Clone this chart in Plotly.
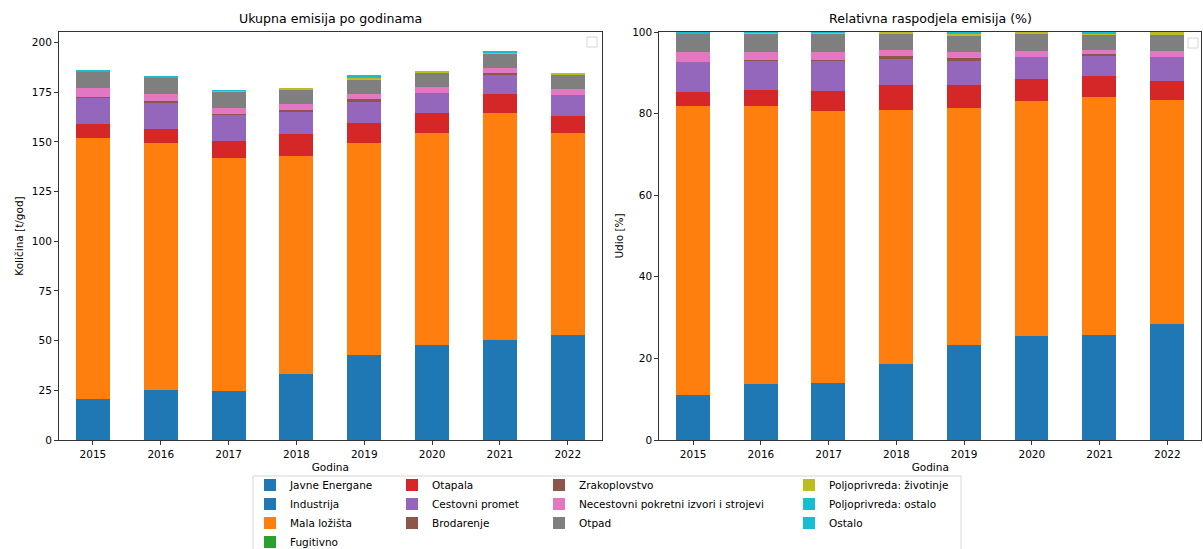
import plotly.graph_objects as go

W, H = 1203, 549

years = ['2015', '2016', '2017', '2018', '2019', '2020', '2021', '2022']

javne_energane = [20.0, 24.5, 24.0, 32.5, 42.1, 47.1, 50.0, 52.1]
industrija = [0.5, 0.5, 0.5, 0.5, 0.5, 0.5, 0.5, 0.5]
mala_lozista = [131.6, 124.7, 117.4, 110.1, 106.6, 106.7, 114.0, 101.7]
fugitivno = [0.0, 0.0, 0.0, 0.0, 0.0, 0.0, 0.0, 0.0]
otapala = [6.7, 6.9, 8.5, 10.7, 10.3, 10.2, 9.7, 8.5]
cestovni_promet = [13.6, 13.4, 13.2, 11.7, 11.0, 10.2, 9.9, 10.7]
brodarenje = [0.1, 0.2, 0.2, 0.4, 0.5, 0.0, 0.4, 0.0]
zrakoplovstvo = [0.0, 0.2, 0.2, 0.4, 0.4, 0.0, 0.4, 0.0]
necestovni = [4.4, 3.6, 3.3, 2.7, 2.8, 2.7, 2.2, 2.9]
otpad = [8.5, 8.3, 7.9, 7.4, 7.4, 7.5, 7.4, 7.2]
polj_zivotinje = [0.1, 0.1, 0.6, 0.5, 1.0, 1.0, 0.5, 1.3]
polj_ostalo = [0.2, 0.2, 0.0, 0.0, 0.3, 0.0, 0.2, 0.0]
ostalo = [0.3, 0.2, 0.1, 0.0, 0.4, 0.0, 0.3, 0.0]

names = ['Javne Energane', 'Industrija', 'Mala ložišta', 'Fugitivno', 'Otapala',
         'Cestovni promet', 'Brodarenje', 'Zrakoplovstvo',
         'Necestovni pokretni izvori i strojevi', 'Otpad',
         'Poljoprivreda: životinje', 'Poljoprivreda: ostalo', 'Ostalo']
series = [javne_energane, industrija, mala_lozista, fugitivno, otapala,
          cestovni_promet, brodarenje, zrakoplovstvo, necestovni, otpad,
          polj_zivotinje, polj_ostalo, ostalo]
colors = ['#1f77b4', '#1f77b4', '#ff7f0e', '#2ca02c', '#d62728', '#9467bd',
          '#8c564b', '#8c564b', '#e377c2', '#7f7f7f', '#bcbd22', '#17becf', '#17becf']
legend_ids = ['legend', 'legend', 'legend', 'legend',
              'legend2', 'legend2', 'legend2',
              'legend3', 'legend3', 'legend3',
              'legend4', 'legend4', 'legend4']

totals = [sum(s[i] for s in series) for i in range(len(years))]

FONT = 'DejaVu Sans'
fig = go.Figure()
for name, vals, col, lg in zip(names, series, colors, legend_ids):
    fig.add_trace(go.Bar(x=years, y=vals, name=name, width=0.5,
                         marker=dict(color=col, line=dict(width=0)),
                         xaxis='x', yaxis='y', legend=lg))
for name, vals, col in zip(names, series, colors):
    pct = [v / t * 100 for v, t in zip(vals, totals)]
    fig.add_trace(go.Bar(x=years, y=pct, name=name, width=0.5,
                         marker=dict(color=col, line=dict(width=0)),
                         xaxis='x2', yaxis='y2', showlegend=False))

def px(x):
    return x / W

def py(y):
    return 1 - y / H

top, bottom = 32, 440
x1d = [px(59), px(601.7)]
x2d = [px(659.3), px(1201.2)]
yd = [py(bottom), py(top)]

axis_common = dict(showline=True, mirror=True, linecolor='#333', linewidth=1,
                   ticks='outside', ticklen=4, tickwidth=1, tickcolor='#333',
                   showgrid=False, zeroline=False, automargin=False,
                   tickfont=dict(family=FONT, size=10.5, color='black'))

fig.update_layout(
    width=W, height=H, margin=dict(l=0, r=0, t=0, b=0, autoexpand=False),
    paper_bgcolor='white', plot_bgcolor='white',
    barmode='stack', bargap=0,
    font=dict(family=FONT, size=10.5, color='black'),
    xaxis=dict(domain=x1d, anchor='y', type='category', range=[-0.5, 7.5],
               title=dict(text='Godina', standoff=5, font=dict(size=10.5)), **axis_common),
    yaxis=dict(domain=yd, anchor='x', range=[0, 205.3], tick0=0, dtick=25,
               title=dict(text='Količina [t/god]', standoff=6, font=dict(size=10.5)), **axis_common),
    xaxis2=dict(domain=x2d, anchor='y2', type='category', range=[-0.5, 7.5],
                title=dict(text='Godina', standoff=5, font=dict(size=10.5)), **axis_common),
    yaxis2=dict(domain=yd, anchor='x2', range=[0, 100], tick0=0, dtick=20,
                title=dict(text='Udio [%]', standoff=6, font=dict(size=10.5)), **axis_common),
)

leg_common = dict(orientation='v', yanchor='top', xanchor='left',
                  bgcolor='rgba(0,0,0,0)', borderwidth=0, traceorder='normal',
                  tracegroupgap=0, font=dict(family=FONT, size=10.5, color='black'))
leg_y = py(470.5)
fig.update_layout(
    legend=dict(x=px(250), y=leg_y, **leg_common),
    legend2=dict(x=px(392), y=leg_y, **leg_common),
    legend3=dict(x=px(539), y=leg_y, **leg_common),
    legend4=dict(x=px(789), y=leg_y, **leg_common),
)

annotations = [
    dict(text='Ukupna emisija po godinama', x=sum(x1d) / 2, y=yd[1], xref='paper', yref='paper',
         xanchor='center', yanchor='bottom', yshift=4, showarrow=False,
         font=dict(family=FONT, size=12.6, color='black')),
    dict(text='Relativna raspodjela emisija (%)', x=sum(x2d) / 2, y=yd[1], xref='paper', yref='paper',
         xanchor='center', yanchor='bottom', yshift=4, showarrow=False,
         font=dict(family=FONT, size=12.6, color='black')),
]
fig.update_layout(annotations=annotations)

shapes = [
    # legend frame
    dict(type='rect', xref='paper', yref='paper', x0=px(253), x1=px(961), y0=py(555), y1=py(476),
         line=dict(color='#d6d6d6', width=1), fillcolor='rgba(255,255,255,0)', layer='below'),
    # empty legend boxes in each panel
    dict(type='rect', xref='paper', yref='paper', x0=px(587), x1=px(597), y0=py(47), y1=py(37),
         line=dict(color='#d6d6d6', width=1), fillcolor='white'),
    dict(type='rect', xref='paper', yref='paper', x0=px(1188), x1=px(1198), y0=py(48), y1=py(38),
         line=dict(color='#d6d6d6', width=1), fillcolor='white'),
]
fig.update_layout(shapes=shapes)

fig.write_html('out.html')
